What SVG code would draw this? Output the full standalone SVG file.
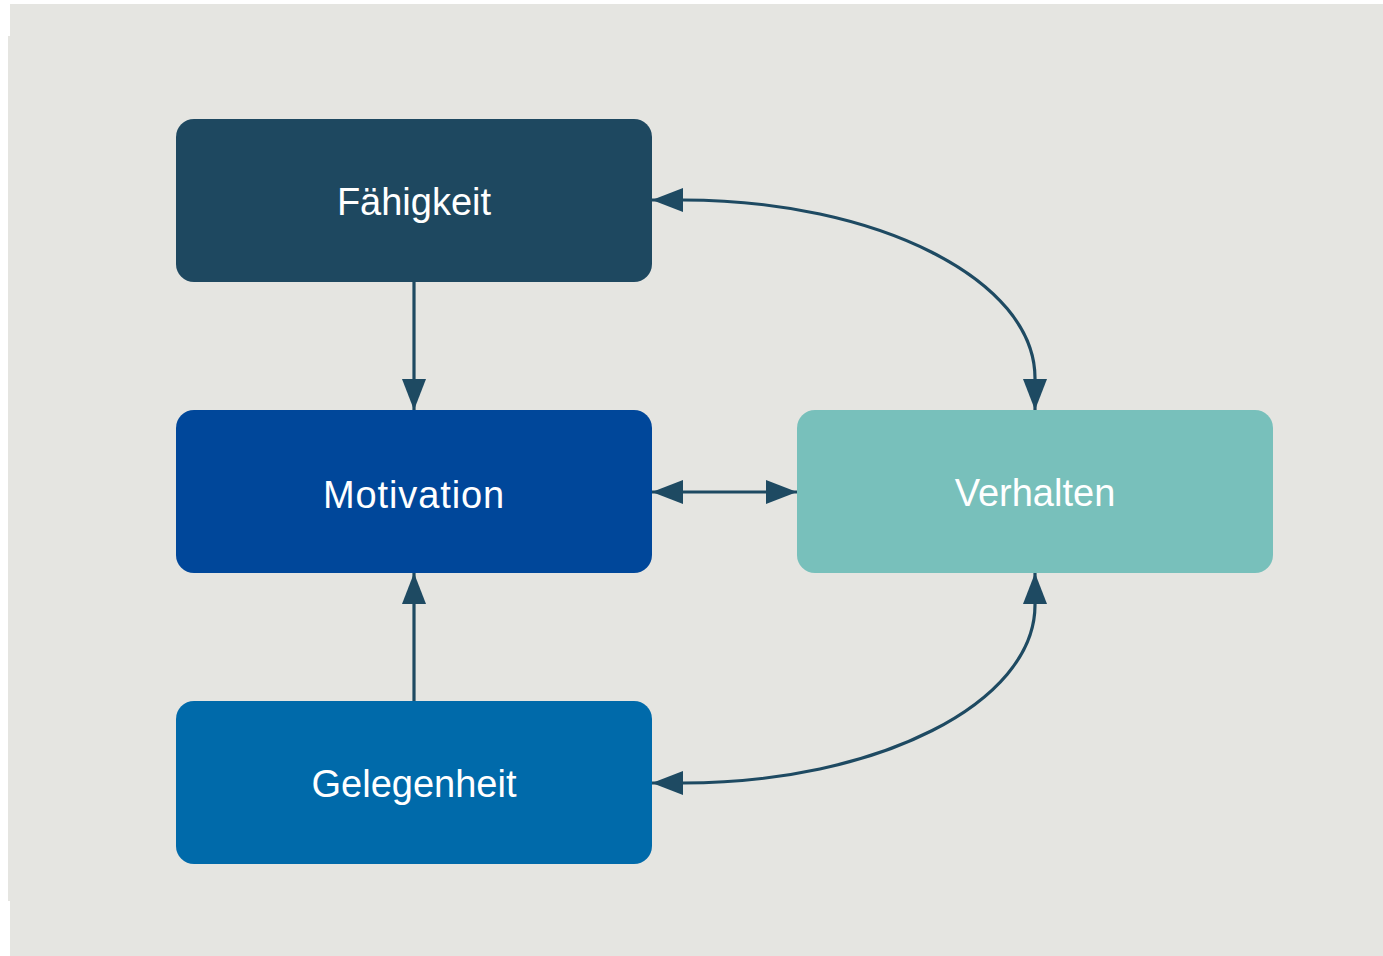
<svg xmlns="http://www.w3.org/2000/svg" width="1383" height="956" viewBox="0 0 1383 956">
  <style>
    .lbl { font-family: "Liberation Sans", Arial, sans-serif; font-size: 38px; fill: #ffffff; text-anchor: middle; }
    .conn { fill: none; stroke: #1e4a62; stroke-width: 3.2; }
  </style>
  <defs>
    <marker id="ah" markerUnits="userSpaceOnUse" markerWidth="34" markerHeight="28" viewBox="0 0 34 28" refX="32" refY="14" orient="auto-start-reverse">
      <path d="M1,2 L32,14 L1,26 Z" fill="#1e4a62"/>
    </marker>
  </defs>
  <rect width="1383" height="956" fill="#ffffff"/>
  <polygon points="10,4 1383,4 1383,956 10,956 10,901 8,901 8,36 10,36" fill="#e5e5e1"/>

  <g id="connectors">
    <line class="conn" x1="414" y1="282" x2="414" y2="410" marker-end="url(#ah)"/>
    <line class="conn" x1="414" y1="701" x2="414" y2="573" marker-end="url(#ah)"/>
    <line class="conn" x1="652" y1="492" x2="797" y2="492" marker-start="url(#ah)" marker-end="url(#ah)"/>
    <path class="conn" d="M652,200 L683,200 C877,200 1035,280 1035,378 L1035,410" marker-start="url(#ah)" marker-end="url(#ah)"/>
    <path class="conn" d="M652,783 L683,783 C877,783 1035,703 1035,605 L1035,573" marker-start="url(#ah)" marker-end="url(#ah)"/>
  </g>

  <g id="node-faehigkeit">
    <rect x="176" y="119" width="476" height="163" rx="18" fill="#1e4860"/>
    <text class="lbl" x="414" y="215">Fähigkeit</text>
  </g>
  <g id="node-motivation">
    <rect x="176" y="410" width="476" height="163" rx="18" fill="#00479a"/>
    <text class="lbl" x="414" y="508" letter-spacing="0.9">Motivation</text>
  </g>
  <g id="node-gelegenheit">
    <rect x="176" y="701" width="476" height="163" rx="18" fill="#006aaa"/>
    <text class="lbl" x="414" y="797">Gelegenheit</text>
  </g>
  <g id="node-verhalten">
    <rect x="797" y="410" width="476" height="163" rx="18" fill="#78c0bb"/>
    <text class="lbl" x="1035" y="506">Verhalten</text>
  </g>
</svg>
